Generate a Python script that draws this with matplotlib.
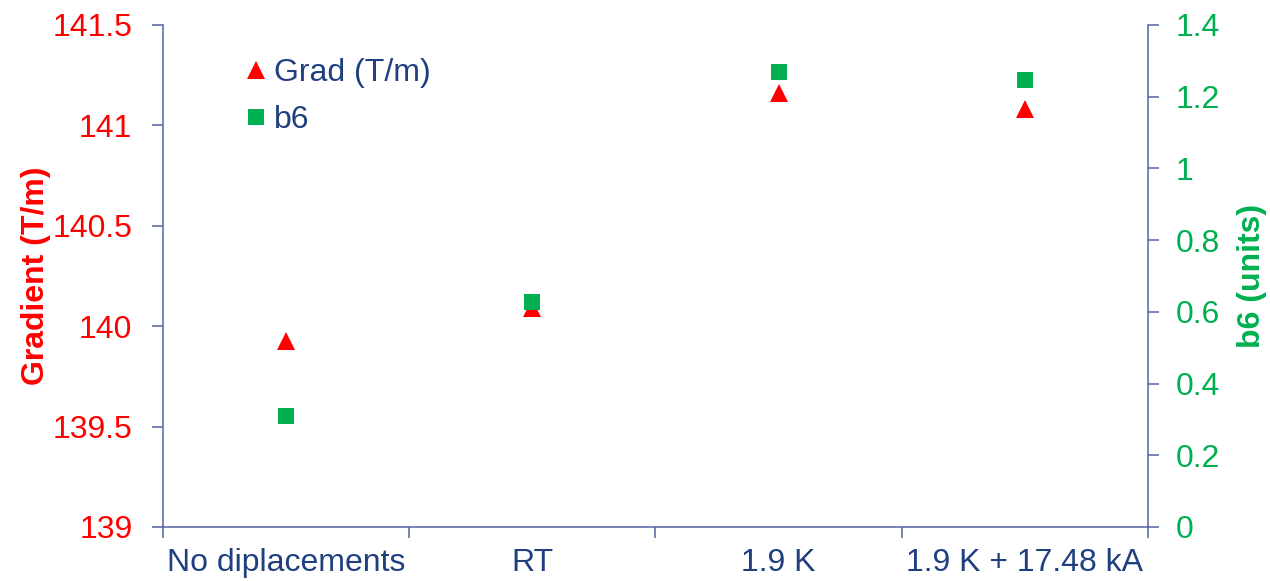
import matplotlib
matplotlib.use("Agg")
import matplotlib.pyplot as plt
from matplotlib.lines import Line2D

# ---- data ----
categories = ["No diplacements", "RT", "1.9 K", "1.9 K + 17.48 kA"]
gradient = [139.924, 140.093, 141.161, 141.083]   # T/m (left axis)
b6 = [0.310, 0.627, 1.269, 1.246]                 # units (right axis)
left_ticks = [139, 139.5, 140, 140.5, 141, 141.5]
left_ticklabels = ["139", "139.5", "140", "140.5", "141", "141.5"]
right_ticks = [0, 0.2, 0.4, 0.6, 0.8, 1.0, 1.2, 1.4]
right_ticklabels = ["0", "0.2", "0.4", "0.6", "0.8", "1", "1.2", "1.4"]

RED = "#FF0000"
GREEN = "#00B050"
NAVY = "#1F3F7F"
SPINE = "#5363A3"
FS = 23

plt.rcParams["font.family"] = ["Liberation Sans", "DejaVu Sans"]

fig = plt.figure(figsize=(12.7, 5.81), dpi=100)
ax = fig.add_axes([163/1270, 1-527/581, (1148-163)/1270, (527-25)/581])
ax2 = ax.twinx()

x = list(range(len(categories)))
ax.plot(x, gradient, linestyle="none", marker="^", markersize=13.5,
        color=RED, markeredgewidth=0, clip_on=False)
ax2.plot(x, b6, linestyle="none", marker="s", markersize=11.5,
         color=GREEN, markeredgewidth=0, clip_on=False)

ax.set_xlim(-0.5, len(categories) - 0.5)
ax.set_ylim(139, 141.5)
ax2.set_ylim(0, 1.4)

ax.set_yticks(left_ticks)
ax.set_yticklabels(left_ticklabels)
ax2.set_yticks(right_ticks)
ax2.set_yticklabels(right_ticklabels)

# category boundaries as major ticks, labels on minor ticks
ax.set_xticks([i - 0.5 for i in range(len(categories) + 1)])
ax.set_xticklabels([])
ax.set_xticks(x, minor=True)
ax.set_xticklabels(categories, minor=True)
ax.tick_params(axis="x", which="major", direction="out", length=8,
               width=1.1, color=SPINE)
ax.tick_params(axis="x", which="minor", length=0, pad=15,
               labelsize=FS, labelcolor=NAVY)

ax.tick_params(axis="y", direction="out", length=8, width=1.1, color=SPINE,
               labelsize=FS, labelcolor=RED, pad=14)
ax2.tick_params(axis="y", direction="out", length=8, width=1.1, color=SPINE,
                labelsize=FS, labelcolor=GREEN, pad=12)

for a in (ax, ax2):
    a.spines["top"].set_visible(False)
    for s in ("left", "right", "bottom"):
        a.spines[s].set_color(SPINE)
        a.spines[s].set_linewidth(1.1)
ax.spines["right"].set_visible(False)
ax2.spines["left"].set_visible(False)
ax2.spines["bottom"].set_visible(False)

ax.set_ylabel("Gradient (T/m)", fontsize=FS, fontweight="bold", color=RED,
              labelpad=1)
ax2.set_ylabel("b6 (units)", fontsize=FS, fontweight="bold", color=GREEN,
               labelpad=12)

handles = [
    Line2D([], [], linestyle="none", marker="^", markersize=13.5,
           color=RED, markeredgewidth=0),
    Line2D([], [], linestyle="none", marker="s", markersize=11.5,
           color=GREEN, markeredgewidth=0),
]
leg = ax2.legend(handles, ["Grad (T/m)", "b6"], loc="upper left",
                 bbox_to_anchor=(0.085, 0.934), frameon=False,
                 fontsize=FS, handlelength=0.6, handletextpad=0.25,
                 borderpad=0, borderaxespad=0, labelspacing=0.52)
for t in leg.get_texts():
    t.set_color(NAVY)

fig.savefig("out.png", dpi=100)
